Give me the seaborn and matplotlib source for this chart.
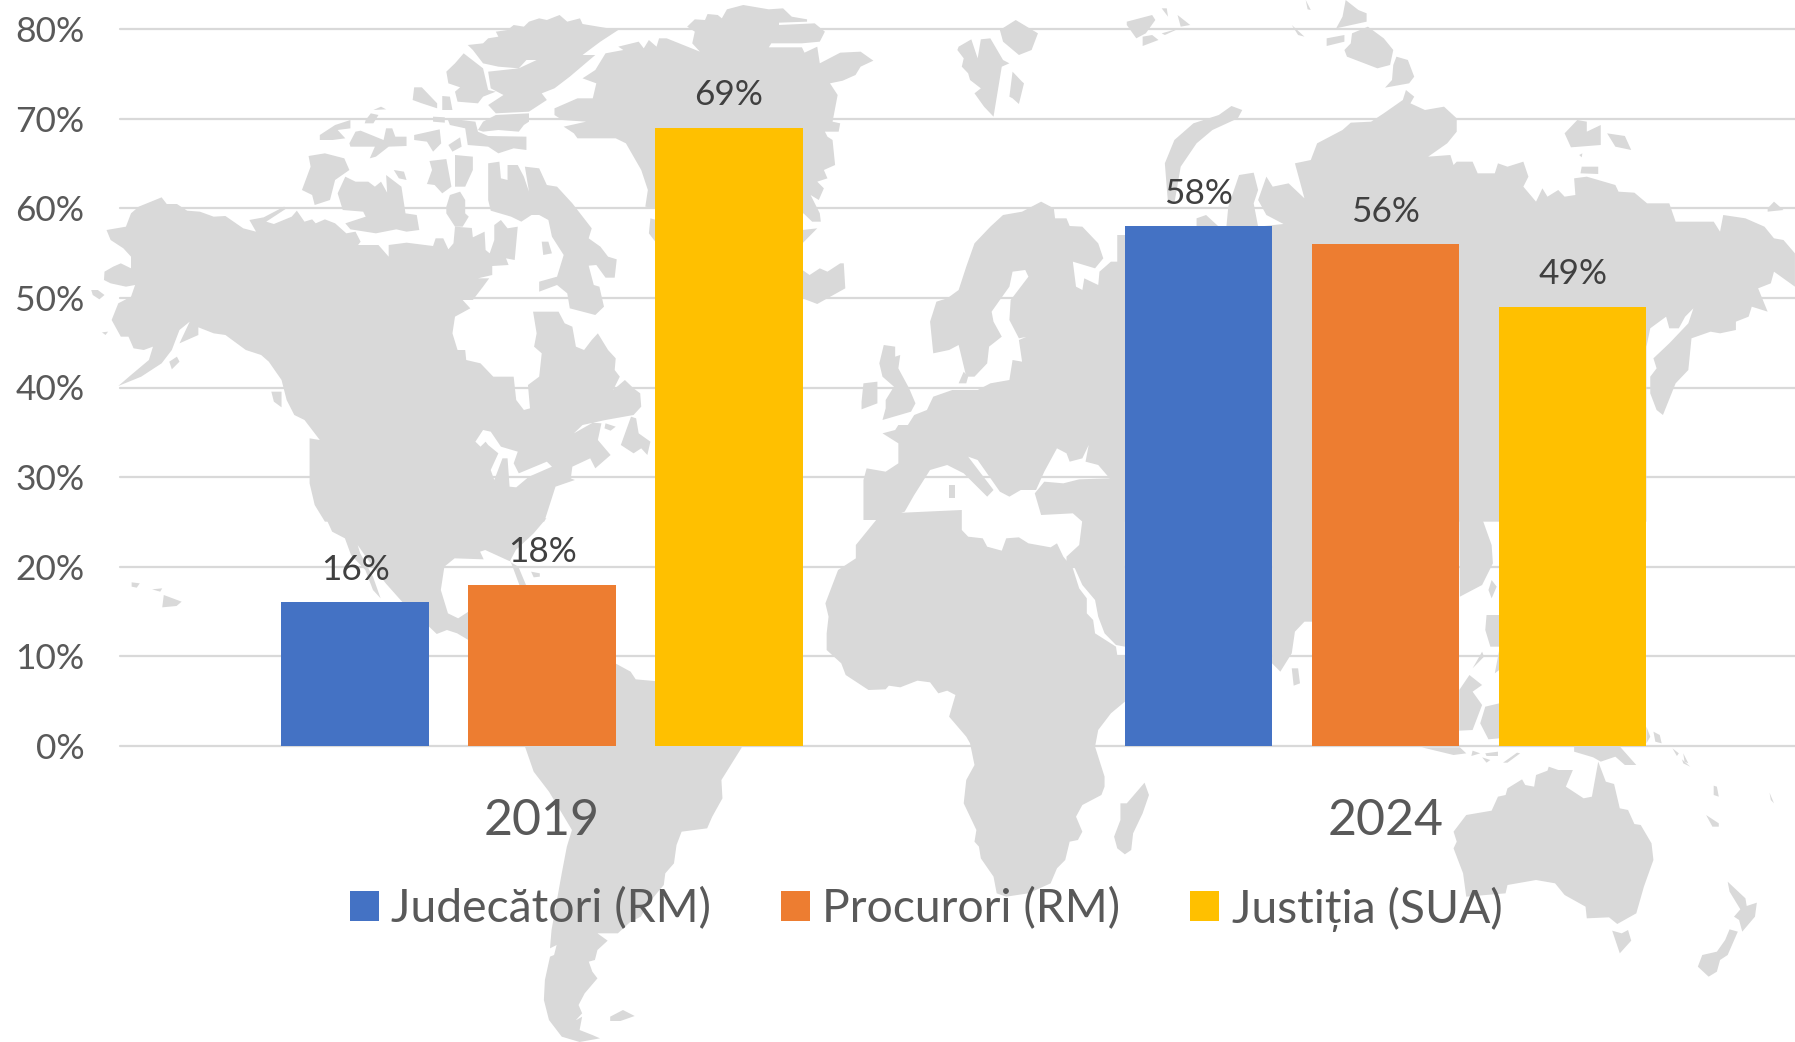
#!/usr/bin/python3

import matplotlib
matplotlib.use("Agg")
import matplotlib.pyplot as plt
import pandas as pd
import seaborn as sns

years = ["2019", "2024"]
series = ["Judecători (RM)", "Procurori (RM)", "Justiția (SUA)"]
judecatori = [16, 58]
procurori = [18, 56]
justitia = [69, 49]
colors = ["#4472C4", "#ED7D31", "#FFC000"]
yticks = [0, 10, 20, 30, 40, 50, 60, 70, 80]

W, H = 1795, 1042
GREY = "#D9D9D9"

# background map outlines, traced from crops of the picture
# nw crop: x = 80 + zx/1.96, y = zy/3
map_nw = [
    [(52,690),(90,680),(100,640),(115,620),(160,592),(170,612),(190,612),(210,632),(235,635),(262,650),(285,648),(320,685),(345,695),(332,660),(360,652),(400,620),(405,625),(365,665),(380,672),(415,650),(425,632),(440,665),(455,658),(462,670),(480,658),(500,670),(522,700),(540,695),(550,725),(545,735),(585,735),(605,770),(605,735),(640,728),(692,738),(697,715),(712,715),(722,748),(732,730),(735,680),(768,684),(770,712),(793,695),(795,750),(803,760),(812,720),(812,675),(825,660),(838,685),(858,680),(852,780),(835,775),(840,795),(808,798),(808,825),(780,835),(802,835),(790,860),(770,900),(750,900),(765,925),(735,950),(730,1000),(740,1050),(755,1050),(757,1080),(785,1090),(810,1130),(850,1130),(855,1200),(870,1230),(882,1225),(878,1155),(900,1130),(905,1060),(890,1040),(895,1000),(888,935),(938,935),(950,970),(965,980),(972,1040),(988,1050),(1003,1020),(1015,1000),(1035,1050),(1050,1075),(1048,1110),(1058,1130),(1045,1170),(1068,1140),(1085,1165),(1098,1180),(1100,1220),(1085,1245),(1030,1260),(985,1275),(968,1300),(1005,1268),(1022,1270),(1015,1320),(1040,1365),(1010,1405),(1000,1375),(965,1400),(962,1435),(970,1440),(932,1460),(910,1565),(480,1565),(460,1515),(450,1450),(450,1315),(470,1320),(440,1260),(420,1245),(405,1200),(395,1140),(370,1085),(355,1065),(325,1050),(285,1005),(262,1000),(232,982),(232,1005),(195,1030),(215,965),(195,990),(180,1050),(160,1090),(120,1130),(75,1158),(100,1125),(135,1080),(143,1040),(125,1050),(105,1045),(95,1010),(80,1010),(62,960),(75,910),(100,890),(108,855),(90,860),(60,850),(47,840),(48,815),(65,800),(80,790),(100,805),(100,770),(85,745),(60,720)],
    [(800,600),(800,490),(822,485),(825,535),(838,540),(838,495),(858,495),(870,530),(880,575),(872,500),(900,505),(915,555),(935,560),(965,610),(1003,685),(997,715),(1020,740),(1035,770),(1052,778),(1048,833),(1030,833),(1012,795),(997,797),(1007,855),(1018,860),(1027,920),(1010,945),(960,925),(955,880),(935,855),(900,875),(900,845),(935,830),(948,765),(925,710),(918,660),(900,645),(885,645),(865,665),(845,650),(805,632)],
    [(515,630),(505,580),(520,530),(540,545),(565,545),(578,560),(590,545),(602,578),(600,525),(630,560),(638,640),(660,645),(665,690),(640,695),(620,688),(580,700),(530,688),(520,670),(560,650),(555,635)],
    [(435,570),(452,500),(448,468),(480,460),(518,475),(528,510),(500,540),(490,600),(460,615),(455,585)],
    [(685,483),(718,477),(728,560),(710,580),(695,555),(680,552),(690,510)],
    [(735,465),(770,470),(770,510),(755,560),(735,560)],
    [(718,620),(725,585),(745,575),(755,600),(755,640),(762,650),(750,680),(735,680),(718,640)],
    [(615,510),(635,515),(640,540),(625,535)],
    [(760,135),(790,130),(800,115),(820,110),(815,95),(838,90),(850,75),(870,80),(880,65),(900,55),(915,60),(940,45),(955,65),(980,55),(985,72),(1055,90),(1020,125),(985,165),(1010,165),(960,230),(930,265),(905,280),(915,300),(880,335),(815,340),(800,315),(830,285),(805,265),(800,215),(860,205),(895,180),(875,180),(860,205),(820,200),(790,190),(770,150)],
    [(752,160),(790,205),(800,270),(815,275),(790,290),(780,310),(740,305),(735,275),(745,262),(722,250),(718,215),(735,190)],
    [(780,390),(790,365),(815,345),(880,340),(880,365),(870,375),(860,395),(820,390),(790,395)],
    [(655,262),(670,262),(700,310),(700,325),(670,310),(652,300)],
    [(710,288),(725,290),(730,330),(710,330)],
    [(720,355),(775,365),(780,395),(800,408),(875,410),(875,450),(850,445),(820,460),(800,440),(760,435),(755,385),(725,375)],
    [(470,420),(470,405),(500,375),(530,360),(530,385),(505,390),(520,415),(495,420)],
    [(560,360),(570,340),(585,345),(575,370),(558,370)],
    [(540,395),(550,392),(595,420),(600,385),(612,385),(618,410),(640,410),(640,438),(605,440),(580,470),(568,475),(578,440),(530,440),(528,430)],
    [(655,405),(705,388),(708,430),(692,455),(680,425),(655,420)],
    [(722,435),(745,412),(748,440),(730,455)],
    [(692,350),(715,352),(715,368),(692,365)],
    [(575,330),(590,320),(600,328)],
    [(905,725),(918,725),(925,760),(908,765)],
    [(1060,1335),(1080,1250),(1090,1255),(1095,1300),(1118,1325),(1112,1365),(1100,1345),(1085,1360)],
    [(1030,1270),(1050,1280),(1040,1292),(1028,1285)],
    [(375,1175),(395,1175),(395,1222),(380,1205)],
    [(1190,80),(1205,58),(1225,60),(1230,42),(1250,45),(1258,55),(1268,28),(1300,15),(1350,28),(1378,25),(1395,50),(1425,58),(1425,65),(1370,68),(1370,75),(1440,70),(1460,95),(1450,125),(1415,130),(1355,130),(1350,142),(1415,142),(1420,158),(1445,140),(1450,190),(1490,158),(1530,155),(1555,182),(1530,200),(1520,225),(1495,242),(1470,250),(1485,285),(1475,365),(1490,370),(1487,395),(1460,395),(1465,410),(1475,420),(1480,495),(1458,510),(1465,535),(1445,545),(1458,565),(1448,600),(1432,585),(1450,640),(1452,665),(1435,665),(1418,640),(1300,660),(1130,625),(1108,620),(1113,570),(1100,510),(1070,430),(1050,415),(975,415),(968,400),(948,380),(992,365),(945,360),(930,345),(930,325),(975,295),(1005,295),(1012,250),(985,235),(1010,210),(1030,160),(1065,150),(1055,140),(1095,125),(1105,145),(1115,120),(1130,140),(1135,115),(1150,115),(1215,155),(1200,130),(1205,95)],
    [(1115,700),(1130,730),(1130,660),(1118,655)],
    [(1416,690),(1445,685),(1416,730)],
    [(1416,810),(1430,825),(1450,805),(1465,815),(1490,790),(1497,790),(1500,865),(1445,912),(1416,895)],
    [(22,870),(35,870),(48,885),(38,898),(25,885)],
    [(43,997),(55,995),(50,1005)],
    [(175,1085),(190,1070),(195,1085),(180,1108)],
]
lakes_nw = [
    [(775,1325),(790,1290),(805,1295),(825,1340),(858,1355),(850,1390),(860,1420),(915,1385),(925,1400),(880,1430),(855,1462),(842,1460),(838,1375),(828,1375),(812,1440),(805,1410),(820,1360),(800,1335),(795,1325),(785,1340)],
]

# ne crop: x = 800 + zx/1.576, y = zy/3
map_ne = [
    [(515,65),(545,50),(555,45),(560,60),(545,100),(530,115),(515,75)],
    [(570,25),(578,25),(580,50)],
    [(595,45),(615,75),(600,80)],
    [(570,100),(598,85),(575,105)],
    [(540,110),(555,105),(565,120),(540,138)],
    [(797,0),(805,30),(800,28)],
    [(860,0),(880,30),(893,40),(893,65),(845,85),(855,50)],
    [(775,75),(795,110),(785,105)],
    [(830,115),(858,105),(858,125),(830,138)],
    [(895,80),(920,115),(935,150),(930,195),(910,205),(862,170),(858,150),(868,130),(870,100)],
    [(940,170),(958,180),(968,230),(960,250),(922,263),(933,240),(935,195)],
    [(250,140),(270,118),(280,175),(285,118),(300,115),(320,180),(330,190),(318,200),(305,350),(290,320),(275,280),(285,265),(268,240),(265,220),(255,200),(258,175),(248,150)],
    [(315,90),(340,60),(375,100),(365,150),(345,165),(320,125)],
    [(335,215),(350,245),(353,250),(345,312),(335,295),(330,290)],
    # Novaya Zemlya arc
    [(575,490),(590,420),(620,370),(660,345),(680,318),(697,330),(690,355),(650,390),(625,430),(600,500),(590,610),(580,610)],
    # Eurasia
    [(300,680),(320,645),(350,635),(380,605),(400,625),(402,655),(420,655),(425,678),(445,680),(470,730),(478,775),(465,805),(430,785),(435,860),(445,870),(448,835),(470,855),(472,815),(490,785),(500,785),(500,705),(520,705),(520,680),(625,680),(625,655),(640,645),(660,680),(672,680),(675,620),(692,525),(715,518),(722,570),(715,610),(722,680),(762,672),(735,645),(722,600),(735,530),(745,560),(770,550),(795,595),(780,490),(805,480),(815,430),(855,390),(868,368),(900,365),(920,340),(950,300),(955,270),(968,290),(962,310),(985,330),(1015,320),(1035,355),(1035,395),(1020,430),(990,470),(1025,465),(1030,495),(1035,485),(1060,485),(1068,520),(1095,520),(1100,490),(1115,500),(1140,485),(1148,530),(1140,560),(1160,605),(1170,565),(1178,590),(1195,570),(1205,590),(1222,585),(1220,535),(1240,530),(1285,555),(1290,575),(1315,578),(1335,610),(1370,610),(1380,665),(1440,665),(1450,695),(1455,645),(1490,655),(1520,680),(1535,715),(1550,720),(1568,760),(1568,860),(1535,815),(1530,850),(1510,865),(1525,935),(1500,920),(1495,950),(1475,965),(1475,990),(1450,1000),(1435,995),(1405,1015),(1400,1110),(1380,1150),(1360,1245),(1350,1230),(1340,1180),(1340,1130),(1350,1105),(1345,1075),(1370,1030),(1400,970),(1408,925),(1395,950),(1385,985),(1370,985),(1365,950),(1340,985),(1334,1040),(1334,1565),(445,1565),(430,1540),(380,1545),(370,1480),(385,1445),(415,1450),(440,1438),(488,1435),(470,1395),(450,1385),(455,1335),(445,1375),(425,1385),(420,1360),(405,1345),(385,1415),(372,1470),(348,1470),(330,1490),(315,1475),(280,1380),(265,1370),(305,1470),(295,1490),(258,1420),(232,1395),(205,1410),(180,1485),(165,1535),(130,1560),(100,1560),(100,1440),(105,1405),(135,1415),(155,1390),(155,1330),(130,1300),(150,1290),(155,1275),(170,1275),(180,1245),(200,1230),(210,1190),(240,1170),(280,1170),(300,1150),(330,1140),(335,1080),(350,1085),(345,1020),(370,1000),(385,1000),(345,1015),(330,960),(332,900),(360,830),(355,810),(335,815),(330,860),(315,900),(302,935),(305,965),(318,1010),(298,1040),(295,1090),(275,1130),(262,1130),(250,1035),(235,1050),(210,1060),(205,965),(215,905),(232,895),(250,870),(262,800),(275,730)],
    [(132,1035),(150,1040),(150,1070),(158,1065),(155,1105),(172,1165),(182,1210),(175,1235),(130,1260),(135,1225),(135,1200),(148,1160),(130,1130),(125,1090)],
    [(100,1150),(122,1145),(122,1210),(97,1228),(97,1205)],
    [(258,1115),(265,1130),(262,1150),(250,1150)],
    [(235,1455),(245,1455),(245,1495),(235,1495)],
    [(1205,400),(1225,360),(1240,365),(1240,395),(1262,375),(1262,435),(1215,442)],
    [(1272,400),(1300,408),(1310,450),(1285,440)],
    [(1232,500),(1258,500),(1258,522),(1230,520)],
    [(1525,625),(1535,605),(1550,630),(1525,635)],
    [(1228,465),(1233,460),(1232,472)],
]

# sw crop: x = 100 + zx/1.96, y = 520 + zy/3
map_sw = [
    [(443,-5),(875,-5),(850,40),(815,90),(803,125),(820,140),(835,195),(822,195),(805,125),(755,90),(745,95),(752,118),(695,115),(675,140),(668,210),(682,280),(702,295),(722,275),(722,360),(700,340),(680,330),(660,342),(645,320),(592,245),(560,190),(530,130),(505,75),(510,100),(535,170),(550,235),(535,210),(520,150),(492,105),(480,55),(455,35)],
    [(800,420),(1010,430),(1040,455),(1050,478),(1100,485),(1250,675),(1258,682),(1218,780),(1220,835),(1200,890),(1190,925),(1140,935),(1130,975),(1125,1030),(1108,1060),(1105,1095),(1075,1150),(1060,1190),(1040,1205),(1015,1240),(975,1240),(995,1262),(975,1290),(970,1320),(958,1325),(965,1355),(975,1375),(950,1420),(938,1455),(945,1480),(915,1530),(905,1525),(945,1490),(940,1530),(965,1545),(980,1555),(940,1566),(905,1550),(880,1500),(870,1440),(872,1380),(882,1310),(890,1305),(895,1275),(882,1285),(885,1230),(905,1060),(915,980),(925,930),(880,815),(850,755),(833,680)],
    [(1000,1490),(1025,1470),(1048,1488),(1020,1503),(1000,1503)],
    [(125,225),(160,245),(150,258),(122,262)],
    [(62,187),(78,190),(72,203),(62,200)],
    [(102,208),(122,205),(118,215)],
    [(845,155),(862,160),(862,170),(850,172)],
]

# se crop: x = 800 + zx/1.576, y = 520 + zy/3
map_se = [
    [(120,0),(140,-20),(255,-30),(255,30),(265,50),(288,55),(295,80),(318,92),(325,55),(345,52),(360,70),(395,82),(405,70),(415,110),(430,145),(440,205),(452,235),(452,280),(462,300),(465,340),(498,380),(500,405),(512,405),(512,545),(490,580),(470,630),(465,680),(480,770),(480,800),(475,825),(445,855),(435,890),(445,935),(438,960),(425,965),(418,1020),(405,1045),(395,1090),(360,1120),(325,1130),(310,1120),(305,1070),(285,1015),(282,980),(275,965),(278,930),(258,850),(262,780),(275,735),(268,670),(262,650),(235,590),(245,525),(232,512),(218,520),(205,487),(185,482),(158,502),(140,497),(135,508),(108,510),(72,465),(65,430),(42,390),(42,340),(45,290),(40,250),(60,150),(88,115),(88,75)],
    [(420,110),(440,75),(445,0),(512,0),(512,380),(498,375),(480,340),(470,290),(465,240),(445,195),(432,140),(420,135)],
    [(744,-5),(807,-5),(807,305),(795,305),(780,335),(775,400),(757,455),(744,430)],
    [(775,445),(785,445),(788,490),(778,497)],
    [(505,850),(515,850),(543,788),(550,825),(540,880),(525,940),(522,990),(512,1003),(500,985),(495,950),(505,900)],
    [(1039,-5),(1075,-5),(1090,75),(1092,130),(1075,195),(1040,230)],
    [(1090,180),(1098,200),(1090,235),(1085,210)],
    [(1082,285),(1102,285),(1102,380),(1088,380),(1080,330)],
    [(1075,395),(1078,410),(1060,445)],
    [(1102,390),(1095,460),(1102,450)],
    [(1039,510),(1055,465),(1075,495),(1060,515),(1075,555),(1060,630),(1039,632)],
    [(1080,560),(1102,550),(1102,655),(1085,658),(1072,610)],
    [(1334,620),(1340,650),(1334,670)],
    [(1345,635),(1355,645),(1358,670),(1348,665)],
    [(1220,675),(1290,675),(1318,735),(1300,735),(1285,710),(1262,725),(1250,712),(1220,695)],
    [(980,682),(1040,682),(1050,700),(1030,705)],
    [(1060,692),(1072,700),(1058,708)],
    [(1080,700),(1100,695),(1100,708),(1082,708)],
    [(1075,712),(1088,720),(1082,728)],
    [(1108,728),(1130,698),(1135,700),(1115,728)],
    [(1375,685),(1385,700),(1382,708)],
    [(1392,700),(1400,730),(1394,725)],
    [(1390,718),(1403,740),(1392,730)],
    [(1030,935),(1050,885),(1090,872),(1100,830),(1112,825),(1115,805),(1138,778),(1143,795),(1157,800),(1160,765),(1178,752),(1180,740),(1195,750),(1218,750),(1207,800),(1235,835),(1248,830),(1258,725),(1270,785),(1283,792),(1292,865),(1305,870),(1315,912),(1325,915),(1342,970),(1345,1020),(1330,1100),(1318,1180),(1288,1212),(1275,1192),(1240,1195),(1238,1160),(1205,1125),(1190,1090),(1160,1080),(1115,1095),(1112,1120),(1050,1130),(1045,1060),(1030,985),(1035,965)],
    [(1280,1232),(1295,1240),(1305,1230),(1310,1262),(1292,1300)],
    [(1462,1085),(1490,1135),(1492,1158),(1508,1148),(1505,1190),(1485,1235),(1480,1200),(1472,1190),(1482,1168),(1465,1115)],
    [(1465,1228),(1478,1235),(1462,1305),(1450,1320),(1445,1355),(1432,1370),(1415,1340),(1422,1305),(1445,1295),(1458,1260)],
    [(1440,797),(1445,800),(1448,830),(1440,825)],
    [(1528,818),(1535,850),(1530,840)],
    [(1428,885),(1448,910),(1448,920),(1438,920)],
]


def draw_map(axis, polys, x0, y0, sx, color=GREY):
    for poly in polys:
        xs = [x0 + p[0] / sx for p in poly]
        ys = [y0 + p[1] / 3 for p in poly]
        axis.fill(xs, ys, color=color, linewidth=0)


sns.set_style("white")
plt.rcParams["font.family"] = ["Lato", "DejaVu Sans"]

fig = plt.figure(figsize=(W / 100, H / 100), dpi=100)

bg = fig.add_axes([0, 0, 1, 1], zorder=0)
bg.set_xlim(0, W)
bg.set_ylim(H, 0)
bg.axis("off")
draw_map(bg, map_nw, 80, 0, 1.96)
draw_map(bg, map_ne, 800, 0, 1.576)
draw_map(bg, map_sw, 100, 520, 1.96)
draw_map(bg, map_se, 800, 520, 1.576)
draw_map(bg, lakes_nw, 80, 0, 1.96, color="white")

ax = fig.add_axes([120.4 / W, 1 - 745.7 / H, 1 - 120.4 / W, (745.7 - 29.3) / H], zorder=1)
ax.patch.set_visible(False)

df = pd.DataFrame({
    "year": years * 3,
    "serie": [s for s in series for _ in years],
    "value": judecatori + procurori + justitia,
})

sns.barplot(data=df, x="year", y="value", hue="serie", hue_order=series,
            palette=colors, saturation=1, width=0.665, gap=0.21,
            linewidth=0, edgecolor="none", ax=ax)

for c in ax.containers:
    ax.bar_label(c, fmt="%d%%", padding=12, fontsize=25.3, color="#404040")

ax.set_xlim(-0.4998, 1.4853)
ax.set_ylim(0, 80)
ax.set_yticks(yticks)
ax.set_yticklabels([f"{t}%" for t in yticks])
ax.set_xlabel("")
ax.set_ylabel("")
ax.set_axisbelow(True)
ax.yaxis.grid(True, color=GREY, linewidth=1.6)
ax.xaxis.grid(False)
sns.despine(ax=ax, left=True, bottom=True, right=True, top=True)
ax.tick_params(axis="y", length=0, pad=26, labelsize=25.5, labelcolor="#595959")
ax.tick_params(axis="x", length=0, pad=37.5, labelsize=36, labelcolor="#595959")
for line in ax.yaxis.get_gridlines():
    line.set_clip_on(False)

sns.move_legend(ax, "center", bbox_to_anchor=(926 / W, 1 - 909 / H),
                bbox_transform=fig.transFigure, ncol=3, frameon=False, title=None,
                fontsize=33.3, labelcolor="#595959", handlelength=0.63, handleheight=0.63,
                handletextpad=0.27, columnspacing=1.5, borderpad=0, borderaxespad=0)

fig.savefig("out.png", dpi=100)
